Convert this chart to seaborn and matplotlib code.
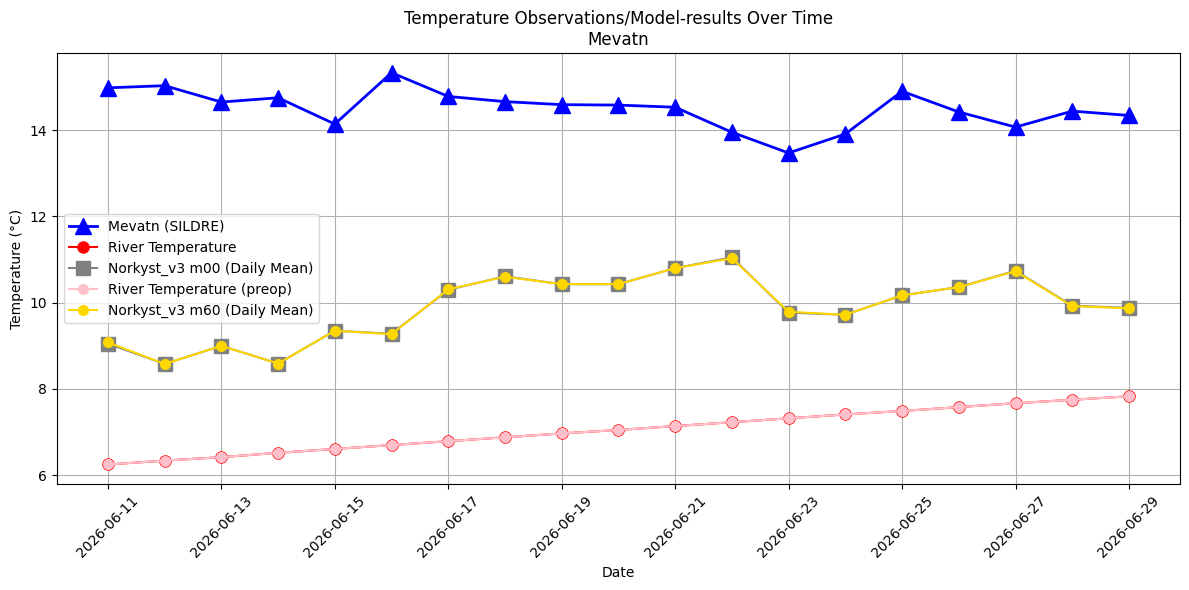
import matplotlib
matplotlib.use("Agg")
import matplotlib.dates as mdates
import matplotlib.pyplot as plt
import pandas as pd
import seaborn as sns

dates = pd.date_range("2026-06-11", "2026-06-29", freq="D")

mevatn_sildre = [14.98, 15.03, 14.65, 14.75, 14.14, 15.33, 14.78, 14.66, 14.59, 14.58,
                 14.53, 13.95, 13.47, 13.91, 14.90, 14.42, 14.07, 14.44, 14.34]
river_temp = [6.25, 6.34, 6.42, 6.52, 6.61, 6.70, 6.79, 6.88, 6.97, 7.05,
              7.14, 7.23, 7.32, 7.41, 7.49, 7.58, 7.67, 7.75, 7.83]
river_temp_preop = list(river_temp)
norkyst_m00 = [9.05, 8.58, 9.00, 8.59, 9.35, 9.28, 10.30, 10.61, 10.43, 10.43,
               10.80, 11.05, 9.77, 9.72, 10.17, 10.36, 10.74, 9.93, 9.88]
norkyst_m60 = [9.08, 8.58, 9.00, 8.59, 9.35, 9.27, 10.31, 10.60, 10.43, 10.43,
               10.80, 11.03, 9.79, 9.72, 10.17, 10.36, 10.73, 9.92, 9.87]

series = [
    ("Mevatn (SILDRE)", mevatn_sildre, "blue", "^", 12, 2.0),
    ("River Temperature", river_temp, "red", "o", 8, 1.5),
    ("Norkyst_v3 m00 (Daily Mean)", norkyst_m00, "gray", "s", 10, 1.5),
    ("River Temperature (preop)", river_temp_preop, "pink", "o", 7, 1.5),
    ("Norkyst_v3 m60 (Daily Mean)", norkyst_m60, "gold", "o", 7, 1.5),
]

fig, ax = plt.subplots(figsize=(12, 6), dpi=100)
for label, values, color, marker, size, lw in series:
    sns.lineplot(x=dates, y=values, ax=ax, label=label, color=color, marker=marker,
                 markersize=size, linewidth=lw, markeredgecolor=color,
                 markeredgewidth=1.0)

ax.set_title("Temperature Observations/Model-results Over Time\nMevatn")
ax.set_xlabel("Date")
ax.set_ylabel("Temperature (°C)")
ax.set_xticks(dates[::2])
ax.xaxis.set_major_formatter(mdates.DateFormatter("%Y-%m-%d"))
plt.setp(ax.get_xticklabels(), rotation=45)
ax.grid(True)
ax.legend(loc="center left")

plt.tight_layout()
plt.savefig("out.png", dpi=100, bbox_inches="tight")
plt.close()
